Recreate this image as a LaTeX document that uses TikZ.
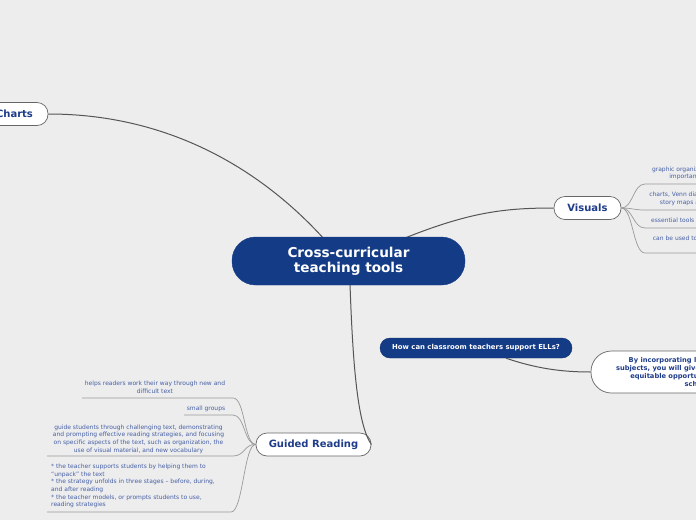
\documentclass[tikz,border=0pt]{standalone}
\usepackage{fontspec}
\setmainfont{DejaVu Sans}
\definecolor{bg}{HTML}{EDEDED}
\definecolor{navy}{HTML}{143B86}
\definecolor{lbl}{HTML}{1E3C8A}
\definecolor{small}{HTML}{4660A6}
\definecolor{conn}{HTML}{555555}
\definecolor{sub}{HTML}{9A9A9A}
\tikzset{
  x=1pt,y=-1pt,
  mainpill/.style={draw=navy,fill=navy,rounded corners=23.5pt,minimum width=233pt,minimum height=48pt,text=white,font=\bfseries\fontsize{13.6}{15}\selectfont,align=center,inner sep=0pt},
  topic/.style={draw=conn!90,fill=white,line width=0.7pt,rounded corners=11pt,minimum height=23pt,text=lbl,font=\bfseries\fontsize{10}{11}\selectfont,inner sep=0pt},
  navypill/.style={draw=navy!80!black,fill=navy,rounded corners=10pt,minimum height=20pt,minimum width=192pt,text=white,font=\bfseries\fontsize{6.9}{8}\selectfont,inner sep=0pt},
  whitebig/.style={draw=conn!90,fill=white,line width=0.7pt,rounded corners=20.5pt,minimum height=42pt,minimum width=214pt,text=lbl,font=\bfseries\fontsize{6.7}{7.8}\selectfont,align=center,inner sep=0pt},
  note/.style={text=small,font=\fontsize{6}{7.6}\selectfont,inner sep=0pt},
  link/.style={draw=conn,line width=1pt},
  twig/.style={draw=sub,line width=0.7pt},
}
\begin{document}
\begin{tikzpicture}
\fill[bg] (0,0) rectangle (696,520);
\useasboundingbox (0,0) rectangle (696,520);
\clip (0,0) rectangle (696,520);

% connectors from the centre (behind nodes)
\coordinate (cTop1) at (325,240);
\coordinate (cTop2) at (405,238);
\coordinate (cBot) at (350,284);

\node[topic,minimum width=74pt] (charts) at (11,114) {\hspace*{7pt}Charts};
\node[topic,minimum width=67pt] (visuals) at (587.5,208) {Visuals};
\node[topic,minimum width=115pt] (guided) at (313.5,444.5) {Guided Reading};
\node[navypill] (ells) at (476,348) {How can classroom teachers support ELLs?};
\node[whitebig] (answer) at (698,372) {By incorporating language across all\\subjects, you will give ELLs a more fair and\\equitable opportunity to succeed in\\school.};

\draw[link] (charts.east) .. controls (190,114) and (280,190) .. (cTop1);
\draw[link] (cTop2) .. controls (470,212) and (505,208) .. (visuals.west);
\draw[link] (cBot) .. controls (353,370) and (358,425) .. (guided.east);
\draw[link] ([xshift=30pt]ells.south) .. controls (535,368) and (560,372) .. (answer.west);

\node[mainpill] (centre) at (348.5,261) {Cross-curricular\\teaching tools};

% Visuals children
\node[note,align=center] (v1) at (715,173.5) {graphic organizers help students focus on\\important concepts in the text};
\node[note,align=center] (v2) at (715,199) {charts, Venn diagrams, timelines, webs and\\story maps are all examples of them};
\node[note,align=center] (v3) at (715,221) {essential tools for learning across subjects};
\node[note,align=center] (v4) at (715,239) {can be used to introduce new vocabulary};
\coordinate (vu1) at (645,184);
\coordinate (vu2) at (645,210);
\coordinate (vu3) at (645,228);
\coordinate (vu4) at (645,253);
\foreach \u in {vu1,vu2,vu3,vu4}{
  \draw[twig] (visuals.east) .. controls (633,208) and (633,208|-\u) .. (\u) -- ([xshift=80pt]\u);
}

% Guided Reading children
\node[note,align=center] (g1) at (155,387.5) {helps readers work their way through new and\\difficult text};
\node[note] (g2) at (206,409) {small groups};
\node[note,align=center] (g3) at (138.5,439) {guide students through challenging text, demonstrating\\and prompting effective reading strategies, and focusing\\on specific aspects of the text, such as organization, the\\use of visual material, and new vocabulary};
\node[note,align=left,anchor=north west] (g4) at (51,464) {* the teacher supports students by helping them to\\``unpack'' the text\\* the strategy unfolds in three stages -- before, during,\\and after reading\\* the teacher models, or prompts students to use,\\reading strategies};
\coordinate (gu1) at (233,398);
\coordinate (gu2) at (233,415);
\coordinate (gu3) at (233,456);
\coordinate (gu4) at (231,512);
\draw[twig] (guided.west) .. controls (244,444) and (245,398) .. (gu1) -- (82,398);
\draw[twig] (guided.west) .. controls (244,444) and (245,415) .. (gu2) -- (184,415);
\draw[twig] (guided.west) .. controls (244,444) and (245,456) .. (gu3) -- (47,456);
\draw[twig] (guided.west) .. controls (244,444) and (243,512) .. (gu4) -- (47,512);
\end{tikzpicture}
\end{document}
